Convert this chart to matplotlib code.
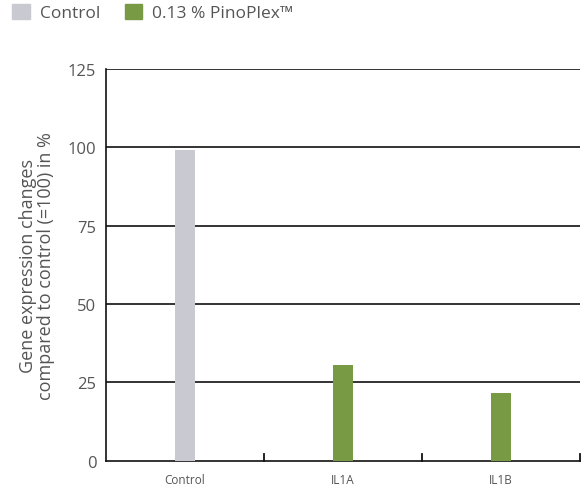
import matplotlib.pyplot as plt
from matplotlib.patches import Patch

# Valeurs d'expression (en % du contrôle)
categories = ["Control", "IL1A", "IL1B"]
values = [99, 30.5, 21.7]
groups = ["Control", "0.13 % PinoPlex\u2122"]
colors = ["#c9c9d1", "#789a45"]
bar_groups = [0, 1, 1]
yticks = [0, 25, 50, 75, 100, 125]

plt.rcParams['font.family'] = ['Open Sans', 'DejaVu Sans']

fig = plt.figure(figsize=(5.86, 5.02), dpi=100)
ax = fig.add_axes([0.181, 0.08, 0.809, 0.781])

x = range(len(categories))
ax.bar(x, values, width=0.13, color=[colors[g] for g in bar_groups], zorder=3)

# Grille horizontale noire
for t in yticks[1:]:
    ax.axhline(t, color="#111111", lw=1.2, zorder=2)

ax.set_xlim(-0.5, 2.5)
ax.set_ylim(0, 125)
ax.set_yticks(yticks)
ax.set_yticklabels([str(t) for t in yticks], fontsize=12, color="#555555")
ax.set_xticks(list(x))
ax.set_xticklabels(categories, fontsize=8.5, color="#555555")
ax.tick_params(axis="x", length=0, pad=9)
ax.tick_params(axis="y", length=0, pad=7)

# Petits traits de séparation entre catégories
for b in [0.5, 1.5, 2.5]:
    ax.plot([b, b], [0, 2.3], color="#111111", lw=1.3, zorder=4, clip_on=False)

for s in ["top", "right"]:
    ax.spines[s].set_visible(False)
ax.spines["left"].set_color("#111111")
ax.spines["bottom"].set_color("#111111")
ax.spines["left"].set_linewidth(1.2)
ax.spines["bottom"].set_linewidth(1.2)

ax.set_ylabel("Gene expression changes\ncompared to control (=100) in %",
              fontsize=13, color="#555555", labelpad=9, linespacing=1.05)

handles = [Patch(color=c) for c in colors]
fig.legend(handles, groups, loc="upper left", bbox_to_anchor=(0.0, 1.015), ncol=2,
           frameon=False, fontsize=12.5, handlelength=1.0, handleheight=1.0,
           handletextpad=0.6, columnspacing=1.4, labelcolor="#555555",
           borderaxespad=0.3)

fig.savefig("out.png", dpi=100)
